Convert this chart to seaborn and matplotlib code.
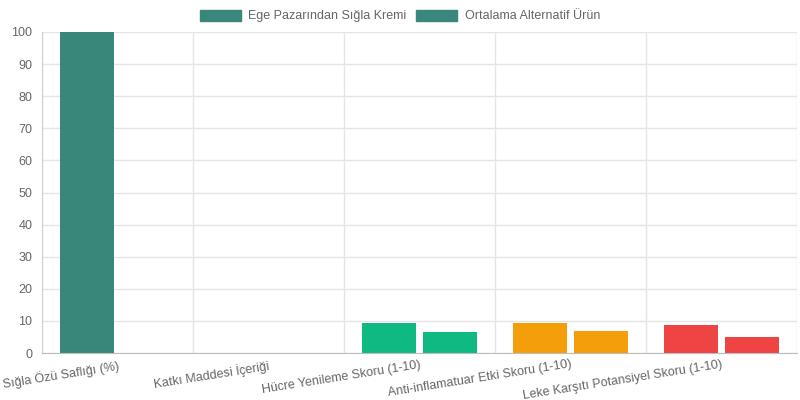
import pandas as pd
import numpy as np
import seaborn as sns
import matplotlib.pyplot as plt
from matplotlib.patches import Patch

# Veriler
kategoriler = ['Sığla Özü Saflığı (%)', 'Katkı Maddesi İçeriği', 'Hücre Yenileme Skoru (1-10)',
               'Anti-inflamatuar Etki Skoru (1-10)', 'Leke Karşıtı Potansiyel Skoru (1-10)']
seriler = ['Ege Pazarından Sığla Kremi', 'Ortalama Alternatif Ürün']
ege_degerler = [100, 0, 9.2, 9.5, 8.8]
alternatif_degerler = [0, 0, 6.5, 7.0, 5.0]
renkler = ['#38877a', '#8b5cf6', '#10b981', '#f59e0b', '#ef4444']

df = pd.DataFrame({
    'kategori': kategoriler * 2,
    'deger': ege_degerler + alternatif_degerler,
    'seri': [seriler[0]] * 5 + [seriler[1]] * 5,
})

sns.set_style('white')
plt.rcParams['font.family'] = ['Liberation Sans', 'DejaVu Sans']

fig = plt.figure(figsize=(8, 4), dpi=100)
ax = fig.add_axes([42 / 800, 47 / 400, 755 / 800, 321 / 400])

sns.barplot(data=df, x='kategori', y='deger', hue='seri', order=kategoriler,
            palette=[renkler[0], renkler[0]], width=0.8, gap=0.1, ax=ax,
            legend=False, errorbar=None, saturation=1, linewidth=0)

# her kategori için renk
for cont in ax.containers:
    for j, bar in enumerate(cont):
        bar.set_facecolor(renkler[j])
        bar.set_linewidth(0)

ax.set_xlim(-0.5, len(kategoriler) - 0.5)
ax.set_ylim(0, 100)
ax.set_yticks(range(0, 101, 10))
ax.set_xlabel('')
ax.set_ylabel('')

ax.set_xticks(np.arange(-0.5, len(kategoriler), 1), minor=True)
ax.tick_params(axis='x', which='major', length=0, pad=4)
ax.tick_params(axis='x', which='minor', length=5, color='#d9d9d9')
ax.tick_params(axis='y', length=4, color='#d9d9d9', labelsize=9, labelcolor='#666666', pad=3)
ax.set_xticklabels(kategoriler, rotation=9, ha='right', va='top', rotation_mode='anchor',
                   fontsize=9, color='#666666')

ax.grid(True, axis='y', color='#e5e5e5', linewidth=1)
ax.grid(True, axis='x', which='minor', color='#e5e5e5', linewidth=1)
ax.set_axisbelow(True)
for s in ['top', 'right']:
    ax.spines[s].set_visible(False)
ax.spines['left'].set_color('#d0d0d0')
ax.spines['bottom'].set_color('#bdbdbd')

handles = [Patch(facecolor=renkler[0], edgecolor=renkler[0]) for _ in seriler]
fig.legend(handles, seriler, loc='center', bbox_to_anchor=(0.5, 1 - 16 / 400), ncol=2,
           frameon=False, fontsize=9, labelcolor='#666666', handlelength=3.3,
           handleheight=1.0, columnspacing=0.75, handletextpad=0.6)

plt.savefig('out.png', dpi=100)
